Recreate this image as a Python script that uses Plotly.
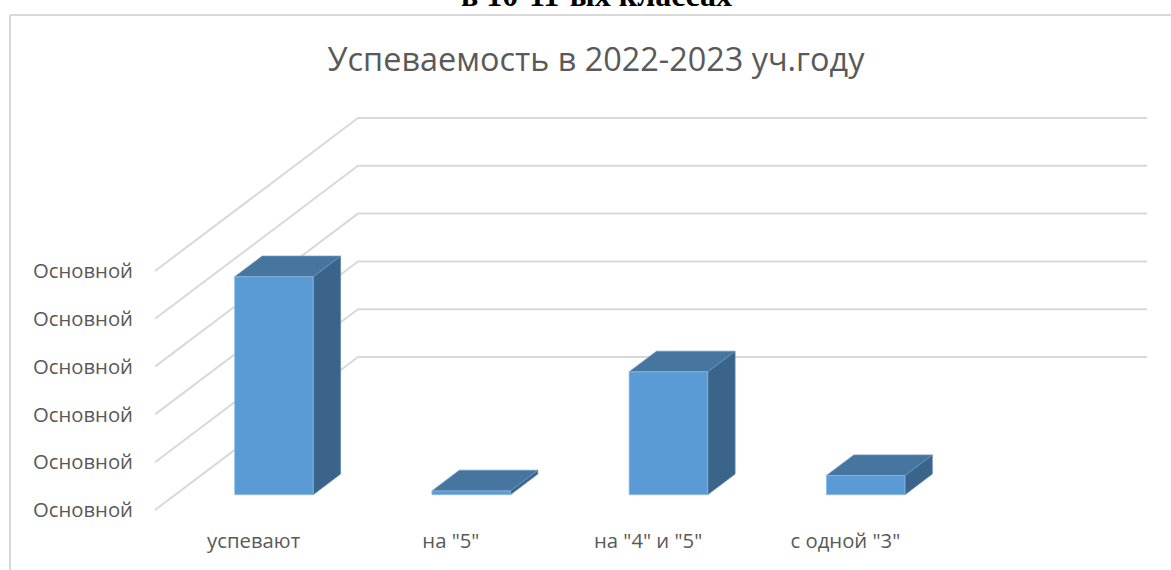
import plotly.graph_objects as go

title = "Успеваемость в 2022-2023 уч.году"
heading = "в 10-11-ых классах"
categories = ["успевают", 'на "5"', 'на "4" и "5"', 'с одной "3"']
values = [4.56, 0.08, 2.57, 0.40]
levels = [0, 1, 2, 3, 4, 5]
level_labels = ["Основной"] * 6

# pixel frame of the plotting area
W, H = 1171, 570
L, B = 137, 45
PX_X = 197.25   # px per category
PX_Y = 47.8     # px per value unit
X0, Y0 = 155, 510  # front-left corner of the floor
DX, DY = 203 / PX_X, 153 / PX_Y  # oblique depth vector in data units
xr = [-0.5 + (L - X0) / PX_X, -0.5 + (W - X0) / PX_X]
yr = [(Y0 - (H - B)) / PX_Y, Y0 / PX_Y]
BAR_W = 0.398
D_FRONT, D_BACK = 0.10, 0.235
C_FRONT, C_SIDE, C_TOP = "#5B9BD5", "#3A6489", "#46769F"
GRID = "#D9D9D9"


def proj(x, v, d):
    return x + d * DX, v + d * DY


fig = go.Figure()


def poly(points, color, edge):
    xs = [p[0] for p in points] + [points[0][0]]
    ys = [p[1] for p in points] + [points[0][1]]
    fig.add_trace(go.Scatter(x=xs, y=ys, mode="lines", fill="toself", fillcolor=color,
                             line=dict(color=edge, width=0.75), hoverinfo="skip", showlegend=False))


for lv in levels:
    a = proj(-0.5, lv, 0)
    b = proj(-0.5, lv, 1)
    c = proj(len(categories) - 0.5, lv, 1)
    fig.add_trace(go.Scatter(x=[a[0], b[0], c[0]], y=[a[1], b[1], c[1]], mode="lines",
                             line=dict(color=GRID, width=2), hoverinfo="skip", showlegend=False))

for i, val in enumerate(values):
    l, r = i - BAR_W / 2, i + BAR_W / 2
    poly([proj(r, 0, D_FRONT), proj(r, 0, D_BACK), proj(r, val, D_BACK), proj(r, val, D_FRONT)], C_SIDE, "#5F89AE")
    poly([proj(l, val, D_FRONT), proj(r, val, D_FRONT), proj(r, val, D_BACK), proj(l, val, D_BACK)], C_TOP, "#6C96BC")
    poly([proj(l, 0, D_FRONT), proj(r, 0, D_FRONT), proj(r, val, D_FRONT), proj(l, val, D_FRONT)], C_FRONT, "#8DB9E2")

FONT = "Open Sans"


def px(x):
    return (x - L) / (W - L)


def py(y):
    return 1 - y / (H - B)


fig.add_shape(type="line", xref="paper", yref="paper", x0=px(10), x1=px(10), y0=py(15), y1=py(570),
              line=dict(color=GRID, width=2), layer="below")
fig.add_shape(type="line", xref="paper", yref="paper", x0=px(10), x1=px(1171), y0=py(15), y1=py(15),
              line=dict(color=GRID, width=2), layer="below")

fig.add_annotation(text="<b>" + heading + "</b>", xref="paper", yref="paper", x=px(596), y=py(0),
                   xanchor="center", yanchor="middle", showarrow=False, yshift=5,
                   font=dict(family="Liberation Serif", size=32, color="#000000"))

fig.update_layout(
    width=W, height=H, margin=dict(l=L, r=0, t=0, b=B, autoexpand=False),
    paper_bgcolor="white", plot_bgcolor="rgba(0,0,0,0)", showlegend=False,
    title=dict(text=title, x=596 / W, xanchor="center", xref="container",
               y=1 - 60 / H, yanchor="middle", yref="container",
               font=dict(family=FONT, size=32.4, color="#595959")),
    xaxis=dict(range=xr, tickmode="array", tickvals=list(range(len(categories))), ticktext=categories,
               showgrid=False, zeroline=False, showline=False, ticks="", ticklabelstandoff=2,
               tickfont=dict(family=FONT, size=20.3, color="#595959"), fixedrange=True),
    yaxis=dict(range=yr, tickmode="array", tickvals=levels, ticktext=level_labels,
               showgrid=False, zeroline=False, showline=False, ticks="", ticklabelstandoff=3,
               tickfont=dict(family=FONT, size=20.3, color="#595959"), fixedrange=True),
)

fig.write_html("out.html", config={"displayModeBar": False},
               post_script="document.body.style.margin='0';document.body.style.overflow='hidden';")
